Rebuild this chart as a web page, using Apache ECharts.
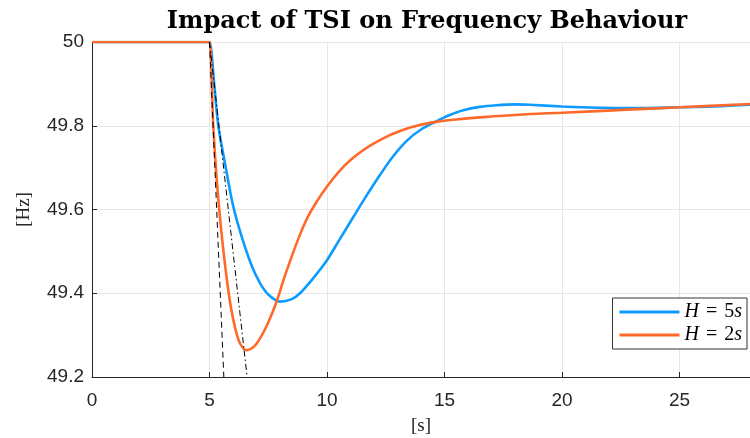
<!DOCTYPE html>
<html>
<head>
<meta charset="utf-8">
<script src="https://cdn.jsdelivr.net/npm/echarts@6/dist/echarts.min.js"></script>
<style>
html,body{margin:0;padding:0;background:#fff;overflow:hidden;}
#chart{width:750px;height:438px;}
</style>
</head>
<body>
<div id="chart"></div>
<script>
// ---- data ----
const titleText = 'Impact of TSI on Frequency Behaviour';
const xName = '[s]';
const yName = '[Hz]';
const xTicks = [0, 5, 10, 15, 20, 25];
const yTicks = [49.2, 49.4, 49.6, 49.8, 50];

const tBlue = [0, 4.9, 5, 5.2, 5.375, 5.66, 6.0, 6.37, 6.8, 7.15, 7.5, 8.0, 8.5, 8.85, 9.4, 10, 10.5, 11.12, 11.6, 12.26, 12.8, 13.39, 14.0, 14.67, 15.2, 15.8, 16.5, 17.2, 18.0, 18.6, 20, 21.5, 23, 25, 26.5, 28];
const yBlue = [50, 50, 50, 49.9, 49.80, 49.71, 49.61, 49.535, 49.465, 49.424, 49.397, 49.38, 49.386, 49.40, 49.435, 49.479, 49.525, 49.582, 49.626, 49.683, 49.726, 49.764, 49.791, 49.811, 49.825, 49.837, 49.845, 49.849, 49.851, 49.85, 49.846, 49.843, 49.842, 49.844, 49.846, 49.85];

const tOrange = [0, 4.9, 5, 5.16, 5.31, 5.5, 5.7, 5.9, 6.1, 6.3, 6.58, 6.9, 7.2, 7.5, 7.88, 8.14, 8.5, 8.85, 9.2, 9.6, 10, 10.5, 11.0, 11.55, 12.0, 12.5, 13.0, 13.7, 14.5, 15.5, 16.5, 18.64, 20, 23, 25, 28];
const yOrange = [50, 50, 50, 49.80, 49.67, 49.55, 49.45, 49.37, 49.315, 49.28, 49.264, 49.273, 49.297, 49.33, 49.384, 49.43, 49.488, 49.54, 49.584, 49.622, 49.655, 49.69, 49.718, 49.742, 49.758, 49.773, 49.785, 49.798, 49.808, 49.815, 49.82, 49.828, 49.831, 49.839, 49.844, 49.852];

const tDash = [5, 5.61];
const yDash = [50, 49.2];
const tDashDot = [5, 6.6];
const yDashDot = [50, 49.2];

const seriesNames = ['H5', 'H2'];
const legendLabels = {H5: '{i|H}{e|=}5{i|s}', H2: '{i|H}{e|=}2{i|s}'};

function pairs(t, y) { return t.map((v, i) => [v, y[i]]); }

const chart = echarts.init(document.getElementById('chart'), null, {renderer: 'canvas', width: 750, height: 438});
const axisColor = '#262626';
const gridColor = '#e6e6e6';
const sans = '"Liberation Sans", Arial, sans-serif';
const serif = '"Liberation Serif", "DejaVu Serif", serif';

chart.setOption({
  backgroundColor: '#ffffff',
  animation: false,
  title: {
    text: titleText,
    left: 422,
    textAlign: 'center',
    top: 5,
    textStyle: {fontFamily: '"DejaVu Serif", serif', fontWeight: 'bold', fontSize: 24, color: '#000'}
  },
  grid: {left: 92, top: 42, width: 658, height: 335, containLabel: false, outerBoundsMode: 'none'},
  legend: {
    data: seriesNames,
    orient: 'vertical',
    right: 3,
    top: 298,
    icon: 'rect',
    itemWidth: 60,
    itemHeight: 3,
    itemGap: 3,
    padding: [4, 5, 4, 7],
    borderColor: '#333',
    borderWidth: 1,
    backgroundColor: '#fff',
    formatter: n => legendLabels[n],
    textStyle: {
      fontFamily: serif, fontSize: 20, color: '#000', lineHeight: 20,
      rich: {
        i: {fontFamily: serif, fontStyle: 'italic', fontSize: 20, color: '#000', lineHeight: 20},
        e: {fontFamily: serif, fontSize: 20, color: '#000', lineHeight: 20, padding: [0, 7, 0, 7]}
      }
    }
  },
  xAxis: {
    type: 'value',
    min: 0, max: 28, interval: 5,
    name: xName, nameLocation: 'middle', nameGap: 40,
    nameTextStyle: {fontFamily: serif, fontSize: 19, color: axisColor},
    axisLine: {show: true, onZero: false, lineStyle: {color: axisColor, width: 1}},
    axisTick: {show: true, inside: true, length: 5, lineStyle: {color: axisColor}},
    axisLabel: {showMaxLabel: false, margin: 14, fontFamily: sans, fontSize: 19, color: axisColor,
      formatter: v => xTicks.includes(v) ? String(v) : ''},
    splitLine: {show: true, lineStyle: {color: gridColor, width: 1}}
  },
  yAxis: {
    type: 'value',
    min: 49.2, max: 50, interval: 0.2,
    name: yName, nameLocation: 'middle', nameGap: 58, nameRotate: 90,
    nameTextStyle: {fontFamily: serif, fontSize: 19, color: axisColor},
    axisLine: {show: true, onZero: false, lineStyle: {color: axisColor, width: 1}},
    axisTick: {show: true, inside: true, length: 5, lineStyle: {color: axisColor}},
    axisLabel: {margin: 8, fontFamily: sans, fontSize: 19, color: axisColor,
      formatter: v => {
        const m = yTicks.find(t => Math.abs(t - v) < 1e-6);
        return m === undefined ? '' : String(m);
      }},
    splitLine: {show: true, lineStyle: {color: gridColor, width: 1}}
  },
  series: [
    {
      name: 'H5', type: 'line', data: pairs(tBlue, yBlue),
      showSymbol: false, smooth: 0.3, color: '#0d9bff',
      lineStyle: {width: 2.6, color: '#0d9bff'}, z: 3
    },
    {
      name: 'H2', type: 'line', data: pairs(tOrange, yOrange),
      showSymbol: false, smooth: 0.3, color: '#ff6a2b',
      lineStyle: {width: 2.6, color: '#ff6a2b'}, z: 4
    },
    {
      name: 'dash', type: 'line', data: pairs(tDash, yDash),
      showSymbol: false, silent: true,
      lineStyle: {width: 1, color: '#000', type: [6, 4]}, z: 5
    },
    {
      name: 'dashdot', type: 'line', data: pairs(tDashDot, yDashDot),
      showSymbol: false, silent: true,
      lineStyle: {width: 1, color: '#000', type: [6, 3, 1.5, 3]}, z: 5
    }
  ]
});
</script>
</body>
</html>
